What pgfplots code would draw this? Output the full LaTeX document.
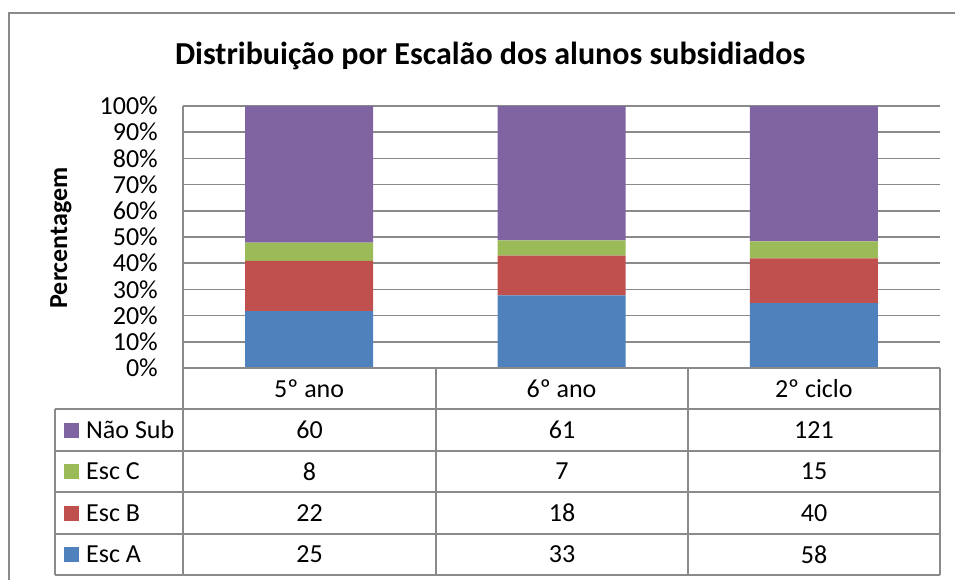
\documentclass[border=0pt]{standalone}
\usepackage{pgfplots}
\pgfplotsset{compat=1.18}
\usepackage{fontspec}
\setmainfont{Carlito}
\definecolor{escA}{HTML}{4F81BD}
\definecolor{escB}{HTML}{C0504D}
\definecolor{escC}{HTML}{9BBB59}
\definecolor{naosub}{HTML}{8064A2}
\definecolor{gridgray}{HTML}{8A8A8A}
\newcommand{\lbl}{\fontsize{26}{31}\selectfont}
\begin{document}
\begin{tikzpicture}
\path[use as bounding box] (0pt,0pt) rectangle (955pt,-580pt);
% outer chart border
\draw[gridgray, line width=1.5pt] (9pt,-580pt) -- (9pt,-13pt) -- (955pt,-13pt);
\begin{axis}[
  at={(183pt,-368pt)}, anchor=south west,
  scale only axis, width=757pt, height=262pt,
  xmin=-0.5, xmax=2.5, ymin=0, ymax=100,
  ybar stacked, bar width=128pt,
  axis x line*=bottom, axis y line*=left,
  axis line style={gridgray, line width=1.5pt, -},
  xtick={0,1,2}, xticklabels={5º ano,6º ano,2º ciclo},
  xticklabel style={font=\lbl, anchor=center, yshift=-21pt},
  ytick={0,10,...,100},
  yticklabel={\pgfmathprintnumber{\tick}\%},
  /pgf/number format/assume math mode=true,
  yticklabel style={font=\lbl, anchor=east, inner sep=0pt, xshift=-25pt},
  major tick length=0pt,
  ymajorgrids, grid style={gridgray, line width=1.5pt},
  clip=false,
]
\addplot[fill=escA, draw=none] coordinates {(0,21.739) (1,27.731) (2,24.786)};
\addplot[fill=escB, draw=none] coordinates {(0,19.130) (1,15.126) (2,17.094)};
\addplot[fill=escC, draw=none] coordinates {(0,6.957) (1,5.882) (2,6.410)};
\addplot[fill=naosub, draw=none] coordinates {(0,52.174) (1,51.261) (2,51.709)};
\end{axis}
% title and y label
\node[font=\bfseries\fontsize{32}{38}\selectfont] at (490pt,-56pt) {Distribuição por Escalão dos alunos subsidiados};
\node[font=\bfseries\lbl, rotate=90] at (61pt,-238pt) {Percentagem};
% data table grid
\begin{scope}[gridgray, line width=1.5pt]
\draw (183pt,-368pt) -- (940pt,-368pt);
\foreach \y in {409,451,492,534,575} {\draw (55pt,-\y pt) -- (940pt,-\y pt);}
\draw (55pt,-409pt) -- (55pt,-575pt);
\foreach \x in {183,436,688,940} {\draw (\x pt,-368pt) -- (\x pt,-575pt);}
\end{scope}
% row headers with legend keys
\foreach \y/\c/\t in {430/naosub/Não Sub, 471.5/escC/Esc C, 513/escB/Esc B, 554.5/escA/Esc A} {
  \fill[\c] (64pt,-\y pt+7.5pt) rectangle (79pt,-\y pt-7.5pt);
  \node[font=\lbl, anchor=west, inner sep=0pt] at (86pt,-\y pt) {\t};
}
% table values
\foreach \y/\a/\b/\cc in {430/60/61/121, 471.5/8/7/15, 513/22/18/40, 554.5/25/33/58} {
  \node[font=\lbl] at (309.5pt,-\y pt) {\a};
  \node[font=\lbl] at (562pt,-\y pt) {\b};
  \node[font=\lbl] at (814pt,-\y pt) {\cc};
}
\end{tikzpicture}
\end{document}
